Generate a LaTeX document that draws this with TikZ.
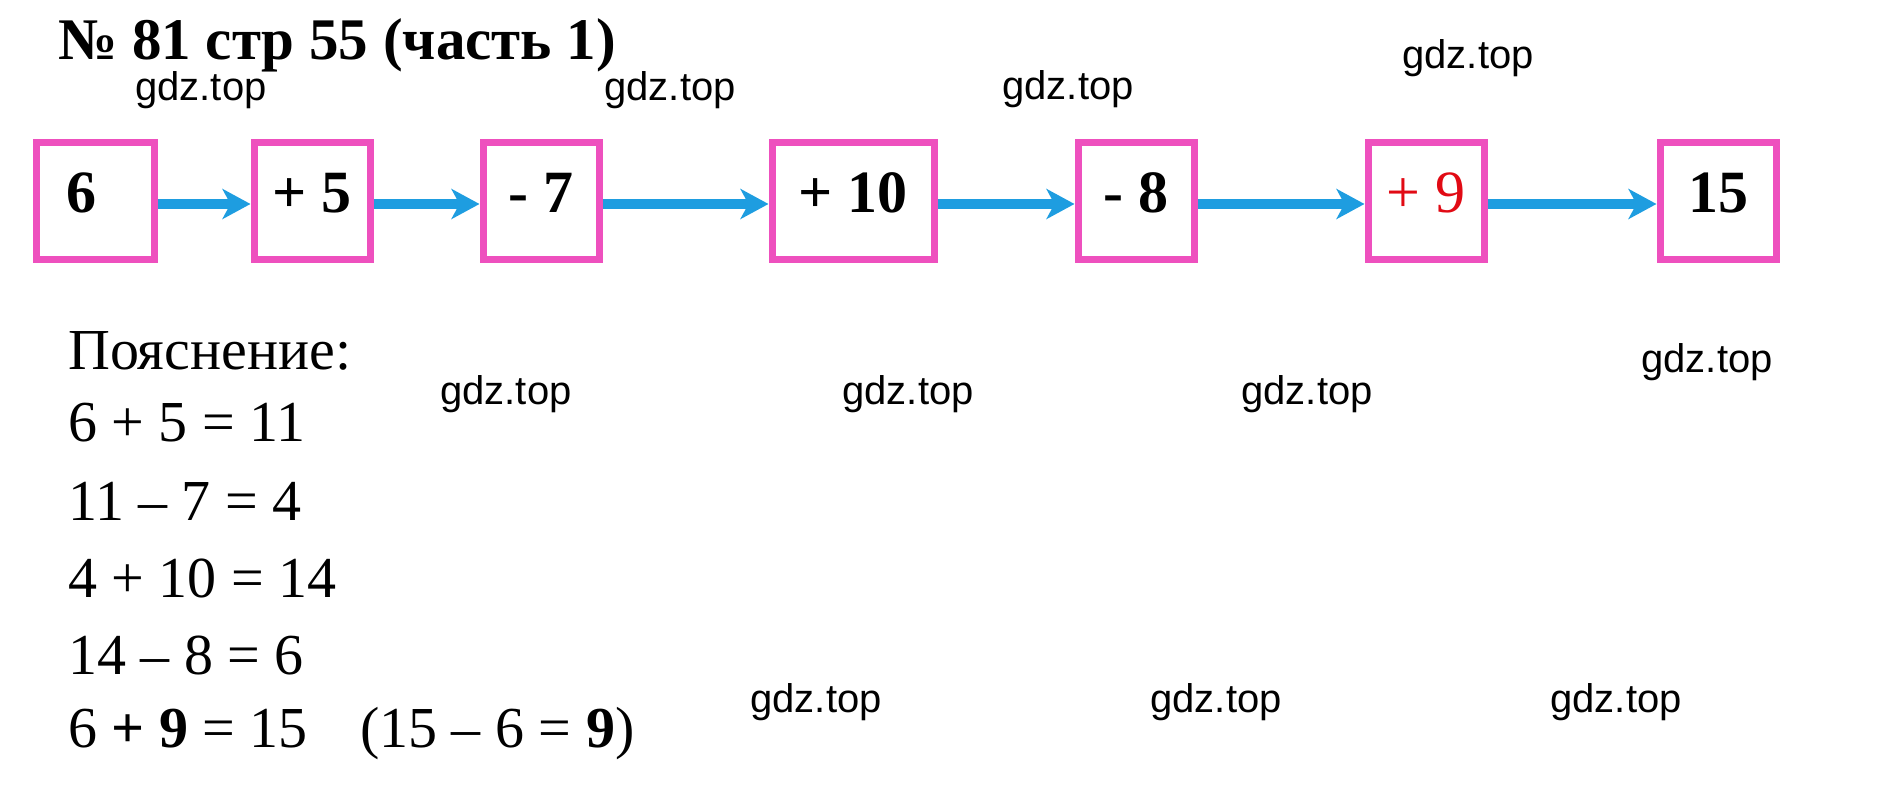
\documentclass[tikz,border=0pt]{standalone}
\usepackage{fontspec}
\setmainfont{Liberation Serif}
\newfontfamily\wmfont{Liberation Sans}
\usetikzlibrary{arrows.meta}
\definecolor{boxpink}{RGB}{238,80,190}
\definecolor{arrblue}{RGB}{30,157,224}
\definecolor{ansred}{RGB}{225,10,20}
\begin{document}
\begin{tikzpicture}[x=1pt, y=-1pt,
    box/.style={draw=boxpink, line width=7pt, minimum width=116pt, minimum height=117pt,
      inner sep=0pt, text height=40pt, text depth=16pt, font=\fontsize{60}{60}\selectfont\bfseries},
    arr/.style={draw=arrblue, line width=10.5pt, -{Stealth[length=28pt,width=30pt,inset=8pt]}},
    wm/.style={font=\wmfont\fontsize{40}{42}\selectfont, inner sep=0pt},
    eq/.style={anchor=base west, inner sep=0pt, font=\fontsize{58}{60}\selectfont}]
    \useasboundingbox (0,0) rectangle (1885,794);

    \node[anchor=base west, inner sep=0pt, font=\fontsize{59}{62}\selectfont\bfseries] (title) at (58,60) {№ 81 стр 55 (часть 1)};

    % chain of boxes
    \node[box, minimum width=118pt, text width=58pt, align=left] (b1) at (95,201) {6};
    \node[box] (b2) at (312,201) {+ 5};
    \node[box] (b3) at (541,201) {- 7};
    \node[box, minimum width=162pt] (b4) at (853,201) {+ 10};
    \node[box] (b5) at (1136,201) {- 8};
    \node[box, text=ansred, font=\fontsize{60}{60}\selectfont] (b6) at (1426,201) {+ 9};
    \node[box] (b7) at (1718,201) {15};

    \draw[arr] ([yshift=-3pt]b1.east) -- ([yshift=-3pt]b2.west);
    \draw[arr] ([yshift=-3pt]b2.east) -- ([yshift=-3pt]b3.west);
    \draw[arr] ([yshift=-3pt]b3.east) -- ([yshift=-3pt]b4.west);
    \draw[arr] ([yshift=-3pt]b4.east) -- ([yshift=-3pt]b5.west);
    \draw[arr] ([yshift=-3pt]b5.east) -- ([yshift=-3pt]b6.west);
    \draw[arr] ([yshift=-3pt]b6.east) -- ([yshift=-3pt]b7.west);

    % explanation
    \node[eq] (head) at (68,369) {Пояснение:};
    \node[eq] (eq1) at (68,441) {6 + 5 = 11};
    \node[eq] (eq2) at (68,520) {11 – 7 = 4};
    \node[eq] (eq3) at (68,597) {4 + 10 = 14};
    \node[eq] (eq4) at (68,674) {14 – 8 = 6};
    \node[eq] (eq5) at (68,747) {6 \textbf{+ 9} = 15\hspace{0.9em}(15 – 6 = \textbf{9})};

    % watermarks
    \node[wm] (wm1) at (201,90) {gdz.top};
    \node[wm] (wm2) at (670,90) {gdz.top};
    \node[wm] (wm3) at (1068,89) {gdz.top};
    \node[wm] (wm4) at (1468,58) {gdz.top};
    \node[wm] (wm5) at (1707,362) {gdz.top};
    \node[wm] (wm6) at (506,394) {gdz.top};
    \node[wm] (wm7) at (908,394) {gdz.top};
    \node[wm] (wm8) at (1307,394) {gdz.top};
    \node[wm] (wm9) at (816,702) {gdz.top};
    \node[wm] (wm10) at (1216,702) {gdz.top};
    \node[wm] (wm11) at (1616,702) {gdz.top};
\end{tikzpicture}
\end{document}
